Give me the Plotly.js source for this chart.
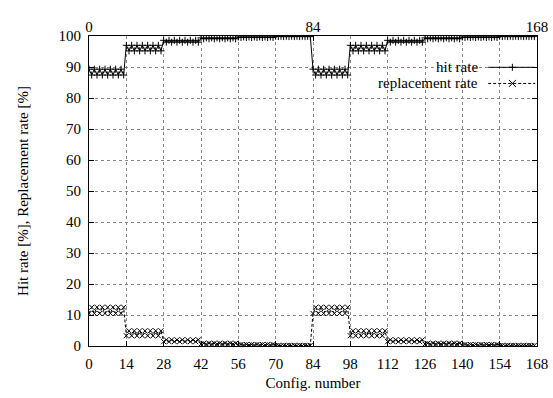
<!DOCTYPE html>
<html>
<head>
<meta charset="utf-8">
<script src="https://cdn.plot.ly/plotly-3.0.1.min.js"></script>
<style>html,body{margin:0;padding:0;background:#fff;}#chart{width:553px;height:398px;}</style>
</head>
<body>
<div id="chart"></div>
<script>
// Config numbers start at 0, step 1
var configStart = 0;
var configStep = 1;

var hitRate = [
  89.3, 87.4, 89.3, 87.4, 89.3, 87.4, 89.3, 87.4, 89.3, 87.4, 89.3, 87.4, 89.3, 87.4,
  97.0, 95.2, 97.0, 95.2, 97.0, 95.2, 97.0, 95.2, 97.0, 95.2, 97.0, 95.2, 97.0, 95.2,
  98.6, 98.0, 98.6, 98.0, 98.6, 98.0, 98.6, 98.0, 98.6, 98.0, 98.6, 98.0, 98.6, 98.0,
  99.4, 99.1, 99.4, 99.1, 99.4, 99.1, 99.4, 99.1, 99.4, 99.1, 99.4, 99.1, 99.4, 99.1,
  99.7, 99.5, 99.7, 99.5, 99.7, 99.5, 99.7, 99.5, 99.7, 99.5, 99.7, 99.5, 99.7, 99.5,
  99.9, 99.8, 99.9, 99.8, 99.9, 99.8, 99.9, 99.8, 99.9, 99.8, 99.9, 99.8, 99.9, 99.8,
  89.3, 87.4, 89.3, 87.4, 89.3, 87.4, 89.3, 87.4, 89.3, 87.4, 89.3, 87.4, 89.3, 87.4,
  97.0, 95.2, 97.0, 95.2, 97.0, 95.2, 97.0, 95.2, 97.0, 95.2, 97.0, 95.2, 97.0, 95.2,
  98.6, 98.0, 98.6, 98.0, 98.6, 98.0, 98.6, 98.0, 98.6, 98.0, 98.6, 98.0, 98.6, 98.0,
  99.4, 99.1, 99.4, 99.1, 99.4, 99.1, 99.4, 99.1, 99.4, 99.1, 99.4, 99.1, 99.4, 99.1,
  99.7, 99.5, 99.7, 99.5, 99.7, 99.5, 99.7, 99.5, 99.7, 99.5, 99.7, 99.5, 99.7, 99.5,
  99.9, 99.8, 99.9, 99.8, 99.9, 99.8, 99.9, 99.8, 99.9, 99.8, 99.9, 99.8, 99.9, 99.8
];

var replacementRate = [
  10.5, 12.5, 10.5, 12.5, 10.5, 12.5, 10.5, 12.5, 10.5, 12.5, 10.5, 12.5, 10.5, 12.5,
  3.3, 4.9, 3.3, 4.9, 3.3, 4.9, 3.3, 4.9, 3.3, 4.9, 3.3, 4.9, 3.3, 4.9,
  1.4, 2.0, 1.4, 2.0, 1.4, 2.0, 1.4, 2.0, 1.4, 2.0, 1.4, 2.0, 1.4, 2.0,
  0.6, 0.9, 0.6, 0.9, 0.6, 0.9, 0.6, 0.9, 0.6, 0.9, 0.6, 0.9, 0.6, 0.9,
  0.3, 0.5, 0.3, 0.5, 0.3, 0.5, 0.3, 0.5, 0.3, 0.5, 0.3, 0.5, 0.3, 0.5,
  0.1, 0.2, 0.1, 0.2, 0.1, 0.2, 0.1, 0.2, 0.1, 0.2, 0.1, 0.2, 0.1, 0.2,
  10.5, 12.5, 10.5, 12.5, 10.5, 12.5, 10.5, 12.5, 10.5, 12.5, 10.5, 12.5, 10.5, 12.5,
  3.3, 4.9, 3.3, 4.9, 3.3, 4.9, 3.3, 4.9, 3.3, 4.9, 3.3, 4.9, 3.3, 4.9,
  1.4, 2.0, 1.4, 2.0, 1.4, 2.0, 1.4, 2.0, 1.4, 2.0, 1.4, 2.0, 1.4, 2.0,
  0.6, 0.9, 0.6, 0.9, 0.6, 0.9, 0.6, 0.9, 0.6, 0.9, 0.6, 0.9, 0.6, 0.9,
  0.3, 0.5, 0.3, 0.5, 0.3, 0.5, 0.3, 0.5, 0.3, 0.5, 0.3, 0.5, 0.3, 0.5,
  0.1, 0.2, 0.1, 0.2, 0.1, 0.2, 0.1, 0.2, 0.1, 0.2, 0.1, 0.2, 0.1, 0.2
];

var bottomTicks = [0, 14, 28, 42, 56, 70, 84, 98, 112, 126, 140, 154, 168];
var topTicks = [0, 84, 168];
var seriesNames = ["hit rate", "replacement rate"];

var FONT = "Liberation Serif";
var FS = 15;

var traces = [
  {
    type: "scatter", mode: "lines+markers", name: seriesNames[0],
    x0: configStart, dx: configStep, y: hitRate,
    line: {color: "#000", width: 1},
    marker: {symbol: "cross-thin-open", size: 5, color: "#000", line: {color: "#000", width: 1}},
    showlegend: false
  },
  {
    type: "scatter", mode: "lines+markers", name: seriesNames[1],
    x0: configStart, dx: configStep, y: replacementRate,
    line: {color: "#000", width: 1, dash: "3px,2px"},
    marker: {symbol: "x-thin-open", size: 5, color: "#000", line: {color: "#000", width: 1}},
    showlegend: false
  },
  {
    type: "scatter", mode: "markers", x: topTicks, y: [null, null, null],
    xaxis: "x2", yaxis: "y", showlegend: false, hoverinfo: "skip"
  }
];

// custom gnuplot-style legend (text left, sample right)
var lx0 = 0.891, lx1 = 0.996, lxm = 0.945;
var ly = [0.899, 0.847];
var annotations = seriesNames.map(function (n, i) {
  return {
    xref: "paper", yref: "paper", x: 0.872, y: ly[i], xanchor: "right", yanchor: "middle",
    text: n, showarrow: false, font: {family: FONT, size: FS, color: "#000"}
  };
});
var dx = 0.0078, dy = 0.0113;
var shapes = [
  {type: "line", xref: "paper", yref: "paper", x0: lx0, x1: lx1, y0: ly[0], y1: ly[0], line: {color: "#000", width: 1}},
  {type: "line", xref: "paper", yref: "paper", x0: lx0, x1: lx1, y0: ly[1], y1: ly[1], line: {color: "#000", width: 1, dash: "3px,2px"}},
  {type: "line", xref: "paper", yref: "paper", x0: lxm - dx, x1: lxm + dx, y0: ly[0], y1: ly[0], line: {color: "#000", width: 1}},
  {type: "line", xref: "paper", yref: "paper", x0: lxm, x1: lxm, y0: ly[0] - dy, y1: ly[0] + dy, line: {color: "#000", width: 1}},
  {type: "line", xref: "paper", yref: "paper", x0: lxm - dx, x1: lxm + dx, y0: ly[1] - dy, y1: ly[1] + dy, line: {color: "#000", width: 1}},
  {type: "line", xref: "paper", yref: "paper", x0: lxm - dx, x1: lxm + dx, y0: ly[1] + dy, y1: ly[1] - dy, line: {color: "#000", width: 1}}
];

var layout = {
  width: 553, height: 398,
  margin: {l: 89, r: 16, t: 36, b: 52, pad: 0},
  paper_bgcolor: "#fff", plot_bgcolor: "#fff",
  font: {family: FONT, size: FS, color: "#000"},
  showlegend: false,
  xaxis: {
    range: [0, 168], tickvals: bottomTicks, ticktext: bottomTicks.map(String),
    ticks: "inside", ticklen: 5, tickcolor: "#000", tickwidth: 1,
    showline: true, linecolor: "#000", linewidth: 1, mirror: true,
    showgrid: true, gridcolor: "#888", griddash: "dot", gridwidth: 1,
    zeroline: false, ticklabelstandoff: 4,
    tickfont: {family: FONT, size: FS, color: "#000"},
    title: {text: "Config. number", font: {family: FONT, size: FS, color: "#000"}, standoff: 6}
  },
  xaxis2: {
    overlaying: "x", side: "top", anchor: "y", range: [0, 168],
    tickvals: topTicks, ticktext: topTicks.map(String),
    ticks: "inside", ticklen: 5, tickcolor: "#000",
    showgrid: false, zeroline: false, showline: false,
    tickfont: {family: FONT, size: FS, color: "#000"}
  },
  yaxis: {
    range: [0, 100], dtick: 10, tick0: 0,
    ticks: "inside", ticklen: 5, tickcolor: "#000", tickwidth: 1,
    showline: true, linecolor: "#000", linewidth: 1, mirror: "ticks",
    showgrid: true, gridcolor: "#888", griddash: "dot", gridwidth: 1,
    zeroline: false, ticklabelstandoff: 4,
    tickfont: {family: FONT, size: FS, color: "#000"},
    title: {text: "Hit rate [%], Replacement rate [%]", font: {family: FONT, size: FS, color: "#000"}, standoff: 26}
  },
  annotations: annotations,
  shapes: shapes
};

Plotly.newPlot("chart", traces, layout, {staticPlot: true, displayModeBar: false});
</script>
</body>
</html>
